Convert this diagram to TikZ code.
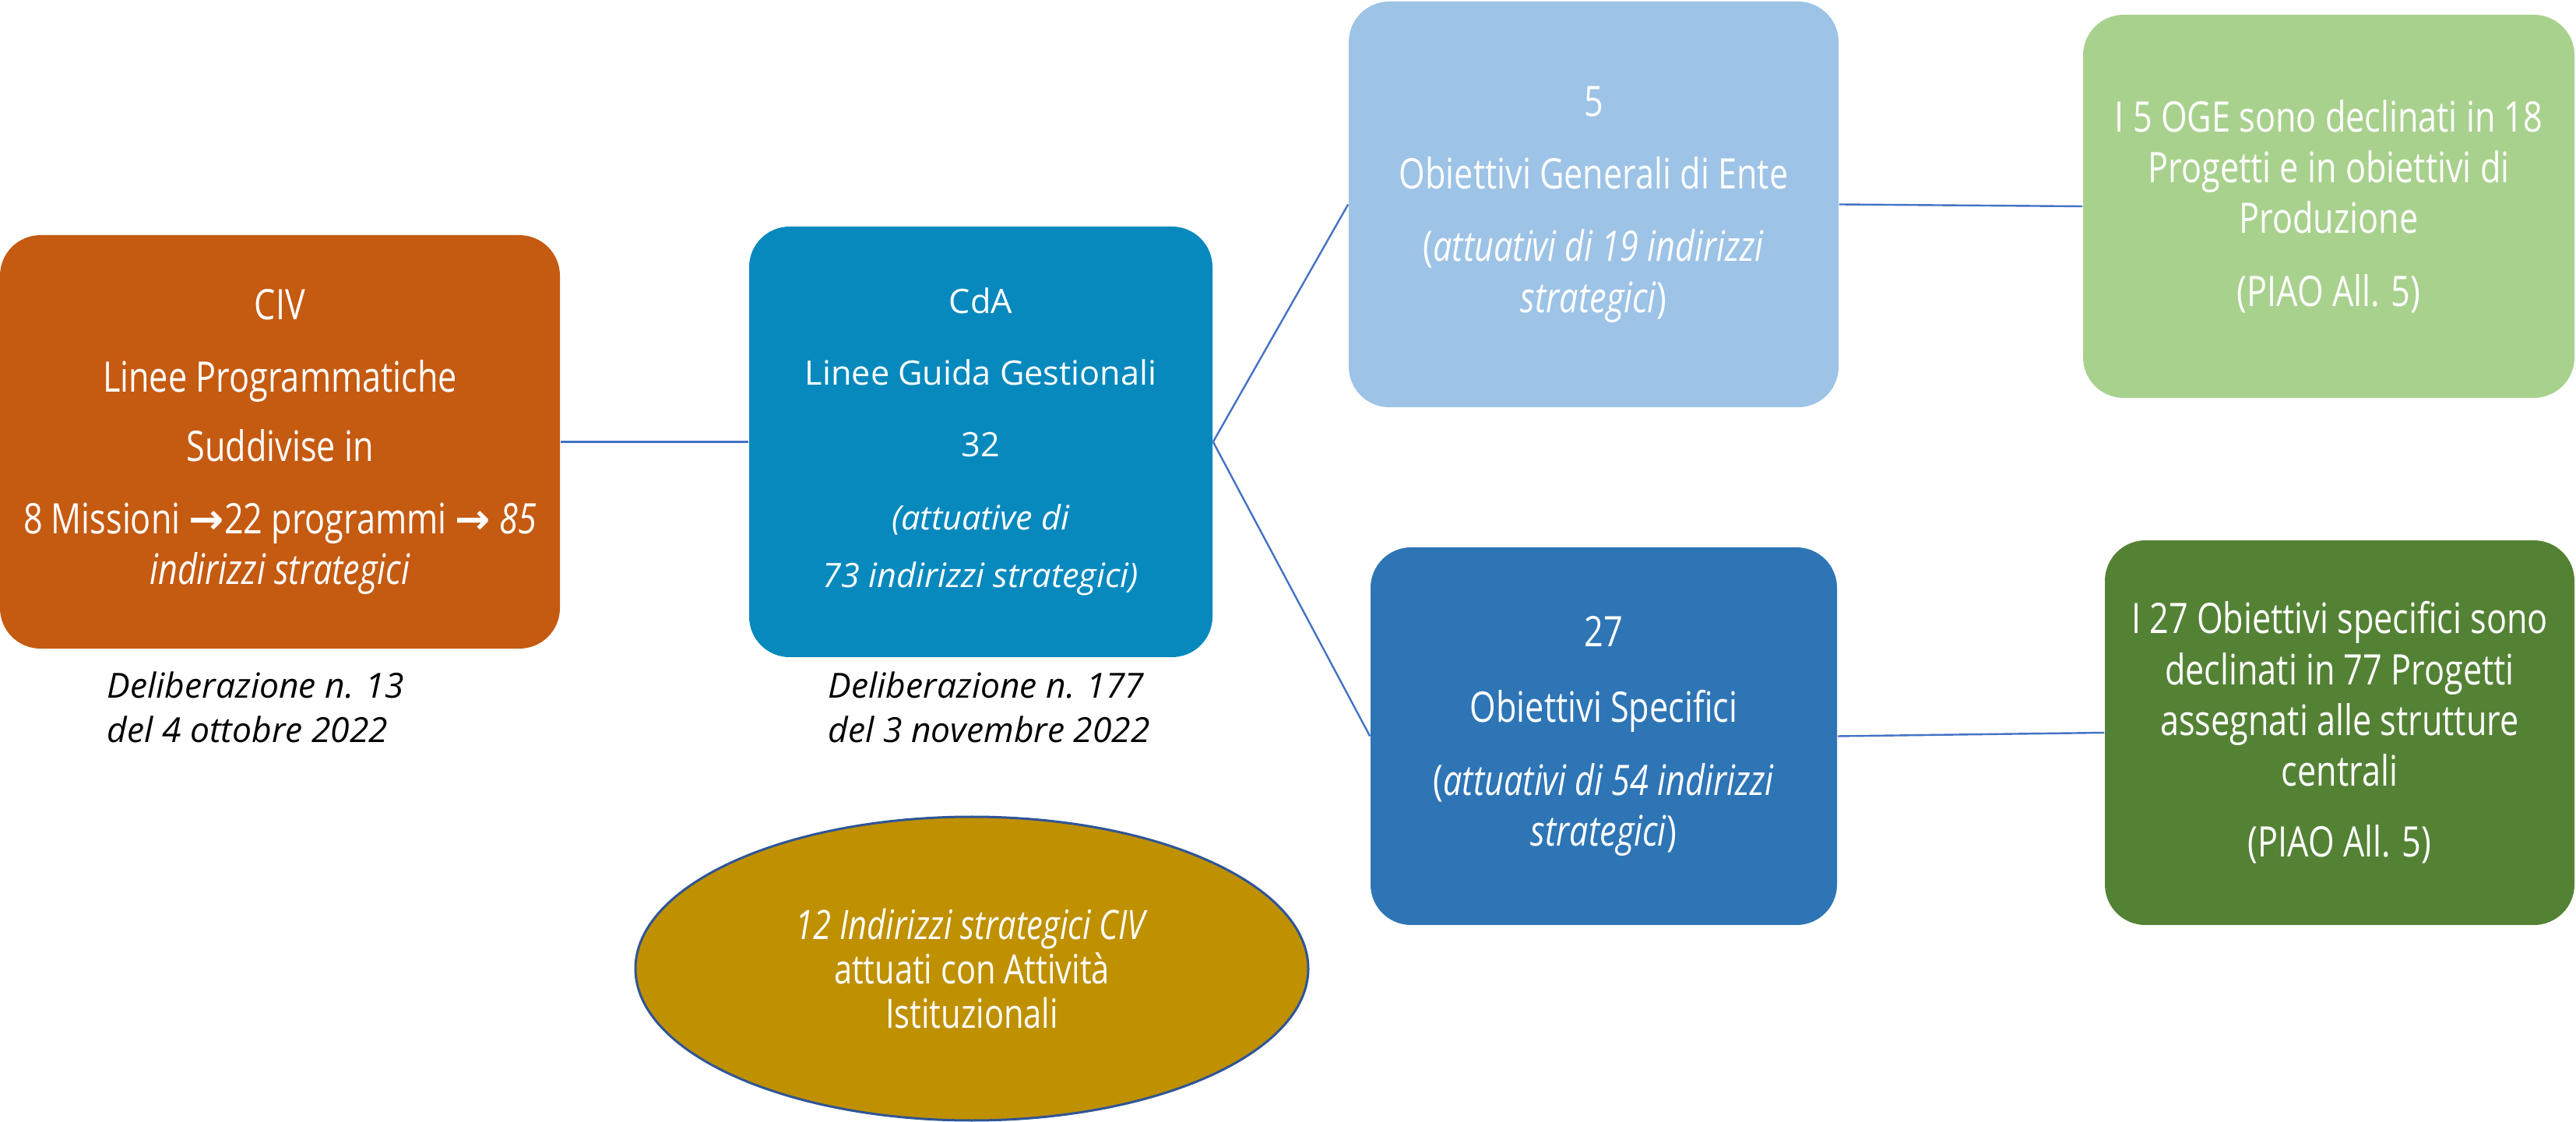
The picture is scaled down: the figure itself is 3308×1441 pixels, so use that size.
\documentclass[tikz,border=0pt]{standalone}
\usepackage{fontspec}
\setmainfont{Open Sans}
\newfontfamily\condfont[FakeStretch=0.8]{Open Sans}
\newfontfamily\arrowfont{DejaVu Sans}
\usetikzlibrary{shapes.geometric}
\definecolor{civorange}{HTML}{C55A11}
\definecolor{cdablue}{HTML}{0889BE}
\definecolor{ogeblue}{HTML}{9DC3E6}
\definecolor{osblue}{HTML}{2E75B6}
\definecolor{lightgreen}{HTML}{A9D18E}
\definecolor{darkgreen}{HTML}{548235}
\definecolor{goldfill}{HTML}{BF9000}
\definecolor{linkblue}{HTML}{4472C4}
\definecolor{ellborder}{HTML}{2F5597}
\begin{document}
\begin{tikzpicture}[x=0.25pt,y=-0.25pt,
  box/.style={rectangle, rounded corners=13pt, inner sep=0pt, align=center, text=white},
  cond/.style={font=\condfont\fontsize{13.5}{16.3}\selectfont},
  link/.style={draw=linkblue, line width=0.6pt},
  delib/.style={anchor=west, align=left, inner sep=0pt, text=black, font=\fontsize{11.1}{14.3}\selectfont\itshape}]
\useasboundingbox (0,0) rectangle (3308,1441);

\node[box, cond, fill=civorange, minimum width=179.75pt, minimum height=132.75pt] (civ) at (359.5,567.5)
  {CIV\\[7pt] Linee Programmatiche\\[6pt] Suddivise in\\[7pt] 8 Missioni {\arrowfont\bfseries →}22 programmi {\arrowfont\bfseries →} \textit{85}\\ \textit{indirizzi strategici}};

\node[box, fill=cdablue, minimum width=148.75pt, minimum height=138.25pt,
  font=\fontsize{10.8}{18.5}\selectfont] (cda) at (1259.5,567.5)
  {CdA\\[4.5pt] Linee Guida Gestionali\\[4.5pt] 32\\[5pt] \textit{(attuative di}\\ \textit{73 indirizzi strategici)}};

\node[box, cond, fill=ogeblue, minimum width=157.25pt, minimum height=130.25pt] (oge) at (2046.5,262.5)
  {5\\[7pt] Obiettivi Generali di Ente\\[7pt] (\textit{attuativi di 19 indirizzi}\\ \textit{strategici})};

\node[box, cond, fill=osblue, minimum width=149.75pt, minimum height=121.25pt] (os) at (2059.5,945.5)
  {27\\[8pt] Obiettivi Specifici\\[7pt] (\textit{attuativi di 54 indirizzi}\\ \textit{strategici})};

\node[box, cond, fill=lightgreen, minimum width=157.75pt, minimum height=123pt] (g1) at (2990.5,265)
  {I 5 OGE sono declinati in 18\\ Progetti e in obiettivi di\\ Produzione\\[7pt] (PIAO All. 5)};

\node[box, cond, fill=darkgreen, minimum width=150.75pt, minimum height=123.5pt] (g2) at (3004.5,941)
  {I 27 Obiettivi specifici sono\\ declinati in 77 Progetti\\ assegnati alle strutture\\ centrali\\[6.5pt] (PIAO All. 5)};

\node[ellipse, draw=ellborder, line width=0.75pt, fill=goldfill, text=white, inner sep=0pt,
  minimum width=216pt, minimum height=97.5pt, align=center,
  font=\condfont\fontsize{13}{14.2}\selectfont] (ell) at (1248,1244)
  {\textit{12 Indirizzi strategici CIV}\\ attuati con Attività\\ Istituzionali};

\node[delib] (d1) at (137,908) {Deliberazione n. 13\\ del 4 ottobre 2022};
\node[delib] (d2) at (1063,908) {Deliberazione n. 177\\ del 3 novembre 2022};

\draw[link] (civ.east) -- (cda.west);
\draw[link] (cda.east) -- (oge.west);
\draw[link] (cda.east) -- (os.west);
\draw[link] (oge.east) -- (g1.west);
\draw[link] (os.east) -- (g2.west);
\end{tikzpicture}
\end{document}
